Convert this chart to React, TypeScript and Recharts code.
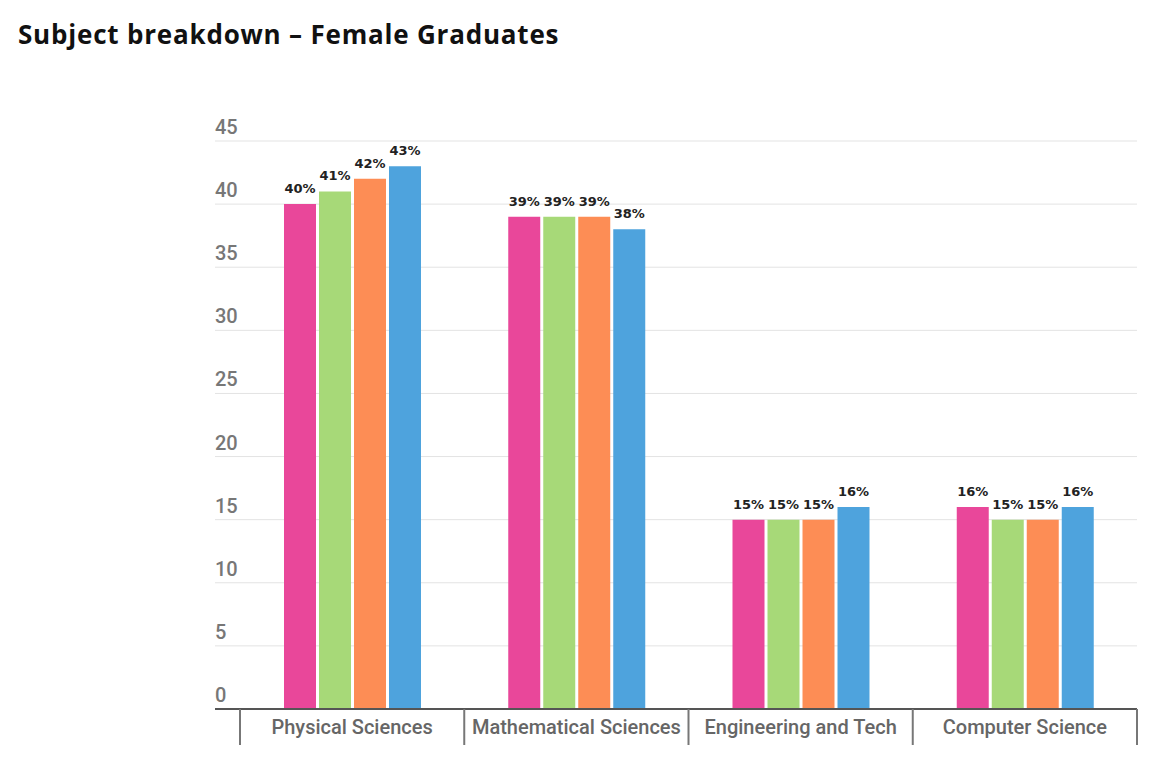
import React from 'react';
import { BarChart, Bar, XAxis, YAxis, CartesianGrid, LabelList } from 'recharts';

const categories = ['Physical Sciences', 'Mathematical Sciences', 'Engineering and Tech', 'Computer Science'];
const seriesKeys = ['s1', 's2', 's3', 's4'];
const seriesColors = ['#E9479A', '#A7D978', '#FD8D55', '#4EA3DD'];
const s1 = [40, 39, 15, 16];
const s2 = [41, 39, 15, 15];
const s3 = [42, 39, 15, 15];
const s4 = [43, 38, 16, 16];
const yTicks = [0, 5, 10, 15, 20, 25, 30, 35, 40, 45];

const data = categories.map((name, i) => ({ name, s1: s1[i], s2: s2[i], s3: s3[i], s4: s4[i] }));

const W = 1158;
const H = 772;
const GRID_LEFT = 215;
const PLOT_LEFT = 240;
const PLOT_RIGHT = 1137;
const AXIS_Y = 709;
const BAND = (PLOT_RIGHT - PLOT_LEFT) / categories.length;

function YTick(props: any) {
  const { y, payload } = props;
  const isZero = payload.value === 0;
  return (
    <g>
      <line x1={GRID_LEFT} x2={PLOT_LEFT} y1={y} y2={y} stroke={isZero ? '#555' : '#e3e3e3'} strokeWidth={isZero ? 2 : 1} />
      <text x={GRID_LEFT} y={y - 7} fill="#777" fontSize={20} fontWeight={500} fontFamily="Roboto, sans-serif">
        {payload.value}
      </text>
    </g>
  );
}

function XTick(props: any) {
  const { x, payload, index } = props;
  const left = x - BAND / 2;
  const right = x + BAND / 2;
  return (
    <g>
      <line x1={left} x2={left} y1={AXIS_Y} y2={AXIS_Y + 36} stroke="#777" strokeWidth={2} />
      {index === categories.length - 1 && (
        <line x1={right} x2={right} y1={AXIS_Y} y2={AXIS_Y + 36} stroke="#777" strokeWidth={2} />
      )}
      <text x={x} y={AXIS_Y + 25} textAnchor="middle" fill="#666" fontSize={20} fontWeight={500} fontFamily="Roboto, sans-serif">
        {payload.value}
      </text>
    </g>
  );
}

export default function App() {
  return (
    <div style={{ position: 'absolute', left: 0, top: 0, width: W, height: H, background: '#fff' }}>
      <div
        style={{
          position: 'absolute',
          left: 18,
          top: 21,
          fontFamily: '"Open Sans", sans-serif',
          fontWeight: 700,
          fontSize: 26,
          letterSpacing: 0.8,
          lineHeight: 1,
          color: '#111',
        }}
      >
        Subject breakdown – Female Graduates
      </div>
      <BarChart
        width={W}
        height={H}
        data={data}
        margin={{ top: 141, right: W - PLOT_RIGHT, left: GRID_LEFT, bottom: 23 }}
        barSize={32}
        barGap={3}
        style={{ position: 'absolute', left: 0, top: 0 }}
      >
        <CartesianGrid horizontal vertical={false} stroke="#e3e3e3" />
        <YAxis
          width={PLOT_LEFT - GRID_LEFT}
          domain={[0, 45]}
          ticks={yTicks}
          axisLine={false}
          tickLine={false}
          tick={<YTick />}
          interval={0}
        />
        <XAxis
          dataKey="name"
          height={40}
          axisLine={{ stroke: '#555', strokeWidth: 2 }}
          tickLine={false}
          tick={<XTick />}
          interval={0}
        />
        {seriesKeys.map((k, i) => (
          <Bar key={k} dataKey={k} fill={seriesColors[i]} isAnimationActive={false}>
            <LabelList
              dataKey={k}
              position="top"
              offset={11}
              formatter={(v: any) => `${v}%`}
              fill="#222"
              fontSize={13}
              fontWeight="bold"
              fontFamily="'DejaVu Sans', sans-serif"
            />
          </Bar>
        ))}
      </BarChart>
    </div>
  );
}
